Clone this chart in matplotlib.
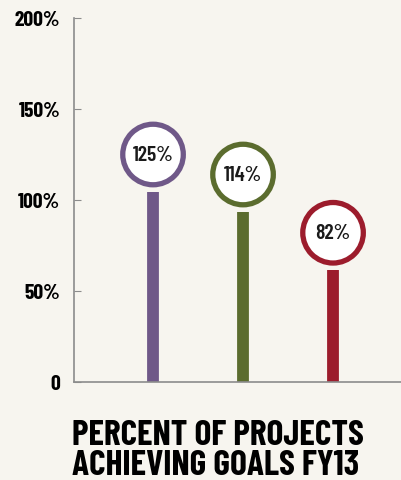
import matplotlib.pyplot as plt
import numpy as np

# values
categories = ['A', 'B', 'C']
values = [125, 114, 82]
labels = ['125%', '114%', '82%']
colors = ['#6f5888', '#5b6c2e', '#9c1c2c']
yticks = [0, 50, 100, 150, 200]
ytick_labels = ['0', '50%', '100%', '150%', '200%']
title_lines = ['PERCENT OF PROJECTS', 'ACHIEVING GOALS FY13']

BG = '#f7f5ef'
FONT = ['Barlow Condensed', 'DejaVu Sans']

fig = plt.figure(figsize=(4.01, 4.81), dpi=100, facecolor=BG)
ax = fig.add_axes([74 / 401, 98 / 481, 327 / 401, 364 / 481])
ax.set_facecolor(BG)

x = np.arange(len(categories))
ax.set_xlim(-0.878, 2.755)
ax.set_ylim(0, 200)

# stems stop a few pixels below the circle; convert that pixel gap to data units
px_per_unit = 364 / 200
gap = 37 / px_per_unit
for xi, v, c in zip(x, values, colors):
    ax.plot([xi, xi], [0, v - gap], color=c, linewidth=8.5, solid_capstyle='butt', zorder=2)

ax.scatter(x, values, s=1900, facecolor='white', edgecolor=colors, linewidth=3.8, zorder=3)
for xi, v, lab in zip(x, values, labels):
    ax.text(xi, v, lab, ha='center', va='center', fontsize=15.5, fontweight='semibold',
            color='#1a1a1a', family=FONT, zorder=4)

for side in ['top', 'right']:
    ax.spines[side].set_visible(False)
ax.spines['left'].set_color('#8c8c8c')
ax.spines['bottom'].set_color('#8c8c8c')
ax.spines['left'].set_linewidth(1.2)
ax.spines['bottom'].set_linewidth(1.2)

ax.set_xticks([])
ax.set_yticks(yticks)
ax.set_yticklabels(ytick_labels, fontsize=15.5, fontweight='bold', family=FONT)
ax.tick_params(axis='y', direction='in', length=5, color='#8c8c8c', pad=10)

fig.text(72 / 401, 1 - 445 / 481, title_lines[0], ha='left', va='baseline',
         fontsize=25.5, fontweight='bold', family=FONT, color='black')
fig.text(72 / 401, 1 - 475 / 481, title_lines[1], ha='left', va='baseline',
         fontsize=25.5, fontweight='bold', family=FONT, color='black')

fig.savefig('out.png', dpi=100, facecolor=BG)
